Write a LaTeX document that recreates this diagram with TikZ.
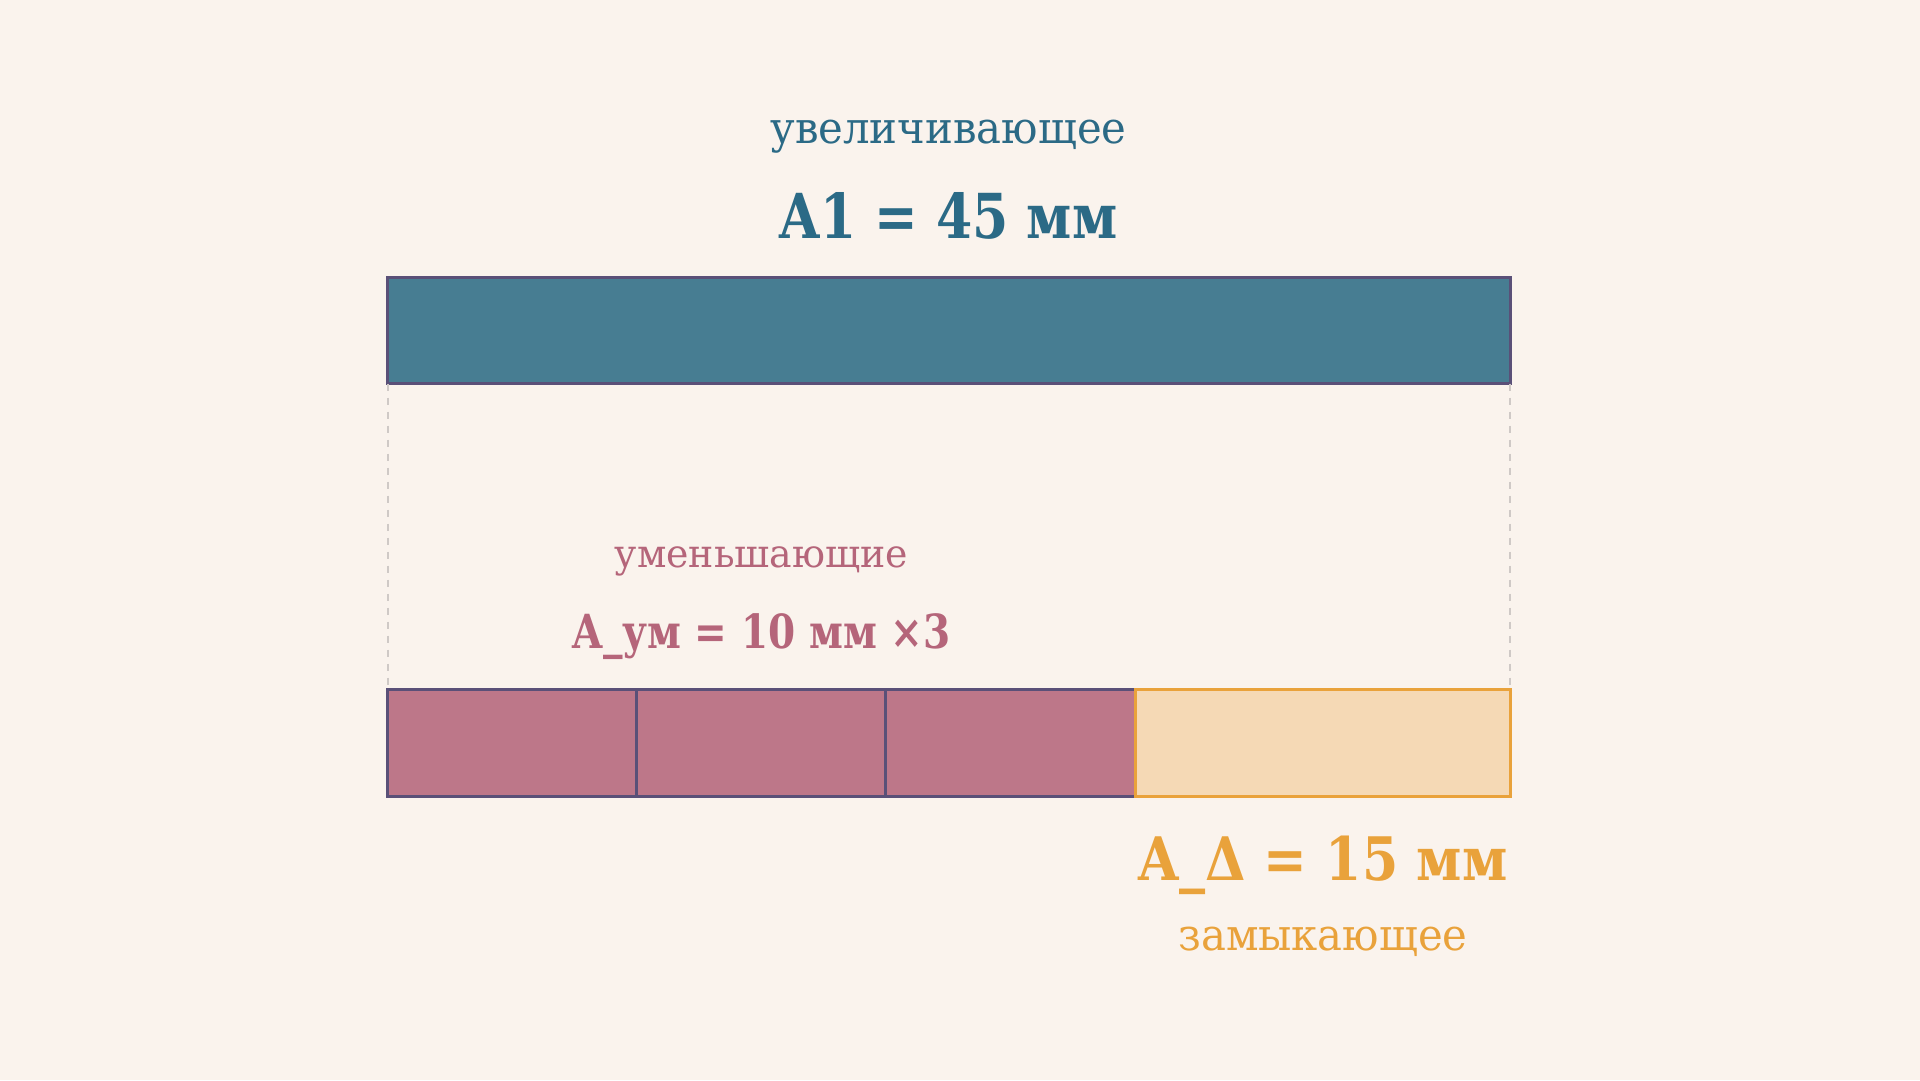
\documentclass[tikz,border=0pt]{standalone}
\usepackage{fontspec}
\usepackage{graphicx}
\setmainfont{DejaVu Serif}
\definecolor{bg}{HTML}{FAF3ED}
\definecolor{tealfill}{HTML}{477D92}
\definecolor{tealtext}{HTML}{2B6A86}
\definecolor{edge}{HTML}{5A5078}
\definecolor{pinkfill}{HTML}{BD7789}
\definecolor{pinktext}{HTML}{B5657A}
\definecolor{orfill}{HTML}{F5D9B5}
\definecolor{oredge}{HTML}{E9A23B}
\definecolor{guide}{HTML}{CFC9C6}
\tikzset{
  bar/.style={draw=edge, line width=3pt, rectangle, inner sep=0pt, outer sep=0pt, anchor=north west},
  lbl/.style={anchor=base, inner sep=0pt},
  guideline/.style={draw=guide, line width=2pt, dash pattern=on 7pt off 7pt}
}
\begin{document}
\begin{tikzpicture}[x=1pt,y=-1pt]
\fill[bg] (0,0) rectangle (1920,1080);
\useasboundingbox (0,0) rectangle (1920,1080);
% top bar
\node[bar, fill=tealfill, minimum width=1122.5pt, minimum height=106.5pt] (top) at (387.5,277) {};
% bottom segments
\node[bar, fill=pinkfill, minimum width=248.5pt, minimum height=107pt] (s1) at (387.5,689) {};
\node[bar, fill=pinkfill, minimum width=249pt, minimum height=107pt] (s2) at (636,689) {};
\node[bar, fill=pinkfill, minimum width=250pt, minimum height=107pt] (s3) at (885,689) {};
\node[bar, draw=oredge, fill=orfill, minimum width=375pt, minimum height=107pt] (s4) at (1135,689) {};
% guides
\draw[guideline] (top.south west) -- (s1.north west);
\draw[guideline] (top.south east) -- (s4.north east);
% labels
\node[lbl, text=tealtext, font=\fontsize{44}{50}\selectfont] (t1) at (948.5,143) {\scalebox{0.95}[1]{увеличивающее}};
\node[lbl, text=tealtext, font=\fontsize{62}{70}\selectfont\bfseries] (t2) at (948.5,238) {\scalebox{0.84}[1]{A1 = 45 мм}};
\node[lbl, text=pinktext, font=\fontsize{39}{45}\selectfont] (p1) at (761.5,567) {\scalebox{0.97}[1]{уменьшающие}};
\node[lbl, text=pinktext, font=\fontsize{47}{55}\selectfont\bfseries] (p2) at (761.5,648) {\scalebox{0.83}[1]{A\_ум = 10 мм ×3}};
\node[lbl, text=oredge, font=\fontsize{60}{68}\selectfont\bfseries] (o1) at (1323,880) {\scalebox{0.87}[1]{A\_Δ = 15 мм}};
\node[lbl, text=oredge, font=\fontsize{44}{50}\selectfont] (o2) at (1323,950) {\scalebox{0.95}[1]{замыкающее}};
\end{tikzpicture}
\end{document}
